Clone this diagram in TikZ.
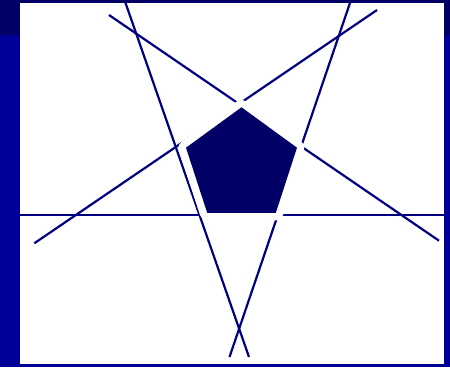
\documentclass[tikz,border=0pt]{standalone}
\usepackage{tikz}
\definecolor{bandblue}{HTML}{000099}
\definecolor{banddark}{HTML}{000066}
\definecolor{linenavy}{HTML}{000080}
\definecolor{pentnavy}{HTML}{000066}

\begin{document}
\begin{tikzpicture}[
  x=1pt, y=-1pt,
  side/.style={draw=linenavy, line width=2.2pt},
  halo/.style={draw=white, line width=15pt, line join=round},
  pent/.style={fill=pentnavy},
]
% frame
\fill[bandblue] (0,0) rectangle (450,367);
\fill[banddark] (0,0) rectangle (450,3);
\fill[banddark] (0,0) rectangle (20,35);
\fill[banddark] (444,0) rectangle (450,35);
\fill[white] (20,3) rectangle (444,364);
% the five lines
\begin{scope}
  \clip (20,3) rectangle (444,364);
  \draw[side] (20,215) -- (444,215);
  \draw[side] (124.5,0) -- (249,357);
  \draw[side] (351,0) -- (229.5,357);
  \draw[side] (377,10) -- (34.3,243.3);
  \draw[side] (109,15) -- (439,240.7);
\end{scope}
% pentagon
\coordinate (p1) at (241.5,107.3);
\coordinate (p2) at (297.0,147.7);
\coordinate (p3) at (275.8,212.9);
\coordinate (p4) at (207.2,212.9);
\coordinate (p5) at (186.0,147.7);
\draw[halo] (p1) -- (p2) -- (p3) -- (p4) -- (p5) -- cycle;
\fill[pent] (p1) -- (p2) -- (p3) -- (p4) -- (p5) -- cycle;
\end{tikzpicture}
\end{document}
